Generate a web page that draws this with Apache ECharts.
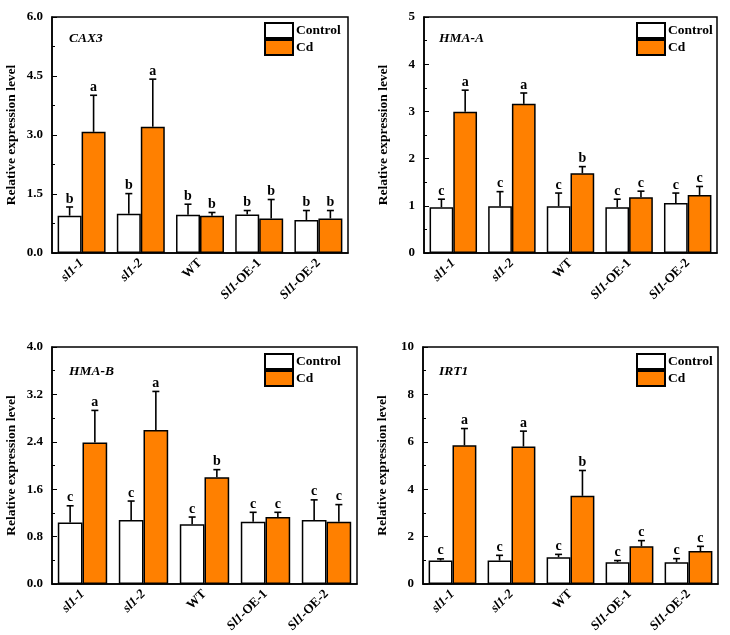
<!DOCTYPE html>
<html>
<head>
<meta charset="utf-8">
<script src="https://cdn.jsdelivr.net/npm/echarts@6/dist/echarts.min.js"></script>
<style>
  html, body { margin: 0; padding: 0; background: #fff; }
  #main { width: 730px; height: 635px; }
</style>
</head>
<body>
<div id="main"></div>
<script>
// genotypes on the x axis
var categories = ['sl1-1', 'sl1-2', 'WT', 'Sl1-OE-1', 'Sl1-OE-2'];

// CAX3
var cax3Ctrl = [0.95, 1.00, 0.97, 0.98, 0.84];
var cax3CtrlSd = [0.22, 0.51, 0.27, 0.10, 0.24];
var cax3Cd = [3.08, 3.21, 0.95, 0.88, 0.88];
var cax3CdSd = [0.93, 1.21, 0.08, 0.48, 0.20];
var cax3CtrlSig = ['b', 'b', 'b', 'b', 'b'];
var cax3CdSig = ['a', 'a', 'b', 'b', 'b'];
var cax3Ticks = [0, 6, 1.5];

// HMA-A
var hmaACtrl = [0.97, 0.99, 0.99, 0.97, 1.06];
var hmaACtrlSd = [0.17, 0.31, 0.28, 0.17, 0.21];
var hmaACd = [2.99, 3.16, 1.69, 1.18, 1.23];
var hmaACdSd = [0.46, 0.23, 0.14, 0.13, 0.18];
var hmaACtrlSig = ['c', 'c', 'c', 'c', 'c'];
var hmaACdSig = ['a', 'a', 'b', 'c', 'c'];
var hmaATicks = [0, 5, 1];

// HMA-B
var hmaBCtrl = [1.04, 1.08, 1.01, 1.05, 1.08];
var hmaBCtrlSd = [0.28, 0.32, 0.12, 0.16, 0.34];
var hmaBCd = [2.39, 2.60, 1.80, 1.13, 1.05];
var hmaBCdSd = [0.54, 0.65, 0.13, 0.08, 0.29];
var hmaBCtrlSig = ['c', 'c', 'c', 'c', 'c'];
var hmaBCdSig = ['a', 'a', 'b', 'c', 'c'];
var hmaBTicks = [0, 4, 0.8];

// IRT1
var irt1Ctrl = [0.99, 0.99, 1.13, 0.92, 0.92];
var irt1CtrlSd = [0.07, 0.22, 0.12, 0.07, 0.15];
var irt1Cd = [5.85, 5.80, 3.72, 1.59, 1.39];
var irt1CdSd = [0.71, 0.65, 1.07, 0.24, 0.20];
var irt1CtrlSig = ['c', 'c', 'c', 'c', 'c'];
var irt1CdSig = ['a', 'a', 'b', 'c', 'c'];
var irt1Ticks = [0, 10, 2];

var FONT = '"Liberation Serif", "Times New Roman", serif';
var ORANGE = '#FF8000';
var GAP = 0.19;

var panels = [
    { gene: 'CAX3', ctrl: cax3Ctrl, ctrlSd: cax3CtrlSd, cd: cax3Cd, cdSd: cax3CdSd,
      ctrlSig: cax3CtrlSig, cdSig: cax3CdSig, ticks: cax3Ticks, dec: 1,
      grid: { left: 52, top: 17, width: 296, height: 236 }, legend: { left: 264, top: 22 }, nameX: 69, nameY: 32 },
    { gene: 'HMA-A', ctrl: hmaACtrl, ctrlSd: hmaACtrlSd, cd: hmaACd, cdSd: hmaACdSd,
      ctrlSig: hmaACtrlSig, cdSig: hmaACdSig, ticks: hmaATicks, dec: 0,
      grid: { left: 424, top: 17, width: 293, height: 236 }, legend: { left: 636, top: 22 }, nameX: 439, nameY: 32 },
    { gene: 'HMA-B', ctrl: hmaBCtrl, ctrlSd: hmaBCtrlSd, cd: hmaBCd, cdSd: hmaBCdSd,
      ctrlSig: hmaBCtrlSig, cdSig: hmaBCdSig, ticks: hmaBTicks, dec: 1,
      grid: { left: 52, top: 347, width: 305, height: 237 }, legend: { left: 264, top: 353 }, nameX: 69, nameY: 365 },
    { gene: 'IRT1', ctrl: irt1Ctrl, ctrlSd: irt1CtrlSd, cd: irt1Cd, cdSd: irt1CdSd,
      ctrlSig: irt1CtrlSig, cdSig: irt1CdSig, ticks: irt1Ticks, dec: 0,
      grid: { left: 423, top: 347, width: 295, height: 237 }, legend: { left: 636, top: 353 }, nameX: 439, nameY: 365 }
];

function catLabel(v) {
    if (v.indexOf('sl1') === 0) {
        return '{i|' + v + '}';
    }
    if (v.indexOf('Sl1') === 0) {
        return '{i|Sl1}{n|' + v.substring(3) + '}';
    }
    return '{n|' + v + '}';
}

function errorSeries(axisIdx, means, sds, sig, side) {
    var data = [];
    for (var i = 0; i < means.length; i++) {
        data.push([i, means[i], sds[i]]);
    }
    return {
        type: 'custom',
        xAxisIndex: axisIdx,
        yAxisIndex: axisIdx,
        z: 5,
        silent: true,
        data: data,
        encode: { x: 0, y: 1 },
        renderItem: function (params, api) {
            var idx = api.value(0);
            var mean = api.value(1);
            var sd = api.value(2);
            var base = api.coord([idx, mean]);
            var top = api.coord([idx, mean + sd]);
            var band = api.size([1, 0])[0];
            var bw = band * (1 - GAP) / 2;
            var x = base[0] + side * bw / 2;
            var ls = { stroke: '#000', lineWidth: 1.6 };
            return {
                type: 'group',
                children: [
                    { type: 'line', shape: { x1: x, y1: base[1], x2: x, y2: top[1] }, style: ls },
                    { type: 'line', shape: { x1: x - 3.5, y1: top[1], x2: x + 3.5, y2: top[1] }, style: ls },
                    { type: 'text', x: x, y: top[1] - 1,
                      style: { text: sig[params.dataIndex], fill: '#000', font: 'bold 14px ' + FONT,
                               align: 'center', verticalAlign: 'bottom' } }
                ]
            };
        }
    };
}

function expressionChartInit() {

    var chartDom = document.getElementById('main');
    var myChart = echarts.init(chartDom);
    var option;

    var grids = [], xAxes = [], yAxes = [], series = [], legends = [], titles = [];

    panels.forEach(function (p, k) {
        grids.push({
            left: p.grid.left, top: p.grid.top, width: p.grid.width, height: p.grid.height,
            show: true, borderColor: '#000', borderWidth: 1.5, backgroundColor: 'transparent'
        });
        xAxes.push({
            type: 'category',
            gridIndex: k,
            data: categories,
            axisLine: { lineStyle: { color: '#000', width: 1.5 } },
            axisTick: { inside: true, length: 3, lineStyle: { color: '#000' } },
            axisLabel: {
                rotate: 45,
                margin: 8,
                color: '#000',
                formatter: catLabel,
                rich: {
                    i: { fontFamily: FONT, fontWeight: 'bold', fontStyle: 'italic', fontSize: 13, color: '#000' },
                    n: { fontFamily: FONT, fontWeight: 'bold', fontSize: 13, color: '#000' }
                }
            }
        });
        yAxes.push({
            type: 'value',
            gridIndex: k,
            min: p.ticks[0],
            max: p.ticks[1],
            interval: p.ticks[2],
            name: 'Relative expression level',
            nameLocation: 'middle',
            nameGap: 33,
            nameTextStyle: { fontFamily: FONT, fontWeight: 'bold', fontSize: 13.5, color: '#000' },
            axisLine: { show: true, lineStyle: { color: '#000', width: 1.5 } },
            axisTick: { show: true, inside: true, length: 5, lineStyle: { color: '#000' } },
            minorTick: { show: true, splitNumber: 2, length: 3, lineStyle: { color: '#000' } },
            splitLine: { show: false },
            axisLabel: {
                margin: 9,
                color: '#000',
                fontFamily: FONT,
                fontWeight: 'bold',
                fontSize: 13,
                formatter: (function (d) {
                    return function (v) { return v.toFixed(d); };
                })(p.dec)
            }
        });
        series.push({
            name: 'Control',
            type: 'bar',
            xAxisIndex: k,
            yAxisIndex: k,
            data: p.ctrl,
            barGap: '0%',
            barCategoryGap: (GAP * 100) + '%',
            itemStyle: { color: '#fff', borderColor: '#000', borderWidth: 1.5 }
        });
        series.push({
            name: 'Cd',
            type: 'bar',
            xAxisIndex: k,
            yAxisIndex: k,
            data: p.cd,
            barGap: '0%',
            barCategoryGap: (GAP * 100) + '%',
            itemStyle: { color: ORANGE, borderColor: '#000', borderWidth: 1.5 }
        });
        series.push(errorSeries(k, p.ctrl, p.ctrlSd, p.ctrlSig, -1));
        series.push(errorSeries(k, p.cd, p.cdSd, p.cdSig, 1));
        legends.push({
            data: ['Control', 'Cd'],
            icon: 'rect',
            orient: 'vertical',
            left: p.legend.left,
            top: p.legend.top,
            padding: 0,
            itemWidth: 28,
            itemHeight: 15,
            itemGap: 0,
            selectedMode: false,
            textStyle: { fontFamily: FONT, fontWeight: 'bold', fontSize: 13.5, color: '#000', padding: [0, 0, 0, -2] }
        });
        titles.push({
            text: p.gene,
            left: p.nameX,
            top: p.nameY,
            padding: 0,
            textStyle: { fontFamily: FONT, fontWeight: 'bold', fontStyle: 'italic', fontSize: 13.5, color: '#000' }
        });
    });

    option = {
        backgroundColor: '#fff',
        animation: false,
        title: titles,
        legend: legends,
        grid: grids,
        xAxis: xAxes,
        yAxis: yAxes,
        series: series
    };

    option && myChart.setOption(option);

}

expressionChartInit();
</script>
</body>
</html>
